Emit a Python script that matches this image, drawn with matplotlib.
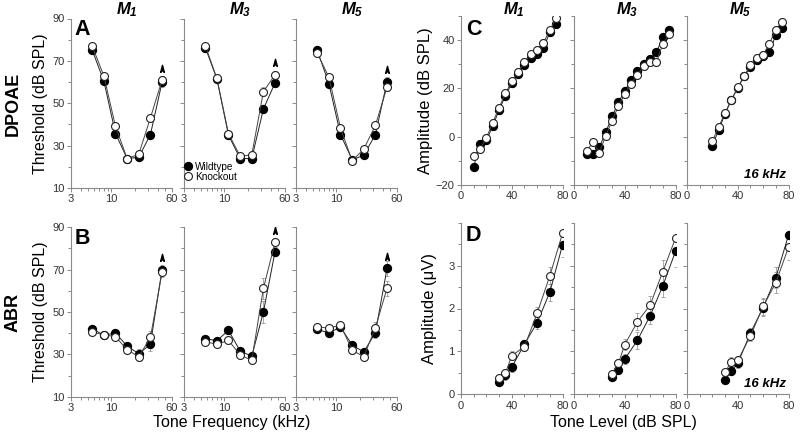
import numpy as np
import matplotlib
matplotlib.use('Agg')
import matplotlib.pyplot as plt
from matplotlib.path import Path
from matplotlib.ticker import FixedLocator, FixedFormatter, NullFormatter

plt.rcParams['font.family'] = ['Liberation Sans', 'DejaVu Sans']
plt.rcParams['mathtext.fontset'] = 'custom'
plt.rcParams['mathtext.rm'] = 'Liberation Sans:bold:italic'
plt.rcParams['mathtext.it'] = 'Liberation Sans:bold:italic'
plt.rcParams['mathtext.bf'] = 'Liberation Sans:bold:italic'

# ---- data ----
freqs = [5.66, 8, 11.3, 16, 22.6, 32, 45.25]
levels_c = [10, 15, 20, 25, 30, 35, 40, 45, 50, 55, 60, 65, 70, 75]
levels_c5 = [20, 25, 30, 35, 40, 45, 50, 55, 60, 65, 70, 75]
levels_d = [30, 35, 40, 50, 60, 70, 80]
titles = [r'$M_1$', r'$M_3$', r'$M_5$']

# A: DPOAE thresholds (dB SPL)
dp_wt_m1 = [75.0, 60.4, 35.7, 23.9, 24.5, 35.2, 59.9]
dp_ko_m1 = [76.9, 62.8, 39.1, 23.9, 25.9, 43.1, 60.9]
dp_wt_m3 = [76.3, 61.5, 34.9, 23.9, 23.9, 47.3, 59.6]
dp_ko_m3 = [77.2, 61.7, 35.7, 25.0, 25.6, 55.5, 63.4]
dp_wt_m5 = [74.9, 59.3, 35.2, 23.4, 25.4, 35.2, 60.2]
dp_ko_m5 = [73.6, 62.3, 38.3, 22.9, 28.3, 39.6, 57.6]
dp_err_m1 = [1, 1, 1.5, 1, 1, 1.5, 2]
dp_err_m3 = [1, 1, 1, 1, 1, 2, 2]
dp_err_m5 = [1, 1, 1.5, 1, 1, 1.5, 2]

# B: ABR thresholds (dB SPL)
abr_wt_m1 = [42.1, 39.0, 40.1, 33.9, 30.3, 34.7, 70.0]
abr_ko_m1 = [40.4, 39.3, 38.3, 32.2, 28.9, 38.0, 68.7]
abr_wt_m3 = [37.4, 36.5, 41.3, 31.6, 29.1, 50.0, 78.5]
abr_ko_m3 = [36.0, 34.7, 36.6, 29.7, 27.2, 61.2, 82.9]
abr_wt_m5 = [41.8, 40.1, 42.9, 34.4, 31.1, 40.2, 70.6]
abr_ko_m5 = [43.1, 42.3, 43.9, 31.9, 28.9, 42.6, 61.2]
abr_err_m1 = [1, 1, 1.5, 1.5, 2, 3, 2]
abr_err_m3 = [1, 1, 1, 1.5, 1.5, 5, 2]
abr_err_m5 = [1, 1, 1.5, 1.5, 1.5, 2.5, 3.5]

# C: DPOAE amplitude at 16 kHz (dB SPL)
c_wt_m1 = [-12.4, -3.0, -1.5, 4.4, 11.0, 17.0, 22.1, 26.1, 29.9, 32.8, 34.1, 36.8, 43.2, 46.6]
c_ko_m1 = [-7.9, -5.2, -0.4, 5.8, 12.1, 17.9, 23.0, 26.9, 30.9, 34.1, 35.9, 39.0, 44.1, 49.0]
c_wt_m3 = [-7.0, -7.0, -4.3, 1.8, 8.4, 14.2, 19.0, 23.3, 27.3, 30.1, 32.3, 34.9, 41.4, 44.1]
c_ko_m3 = [-5.8, -2.3, -6.6, 0.4, 6.6, 12.7, 17.7, 21.8, 25.7, 29.2, 30.9, 30.9, 38.5, 42.6]
c_wt_m5 = [-3.7, 2.8, 9.5, 15.2, 20.2, 25.0, 29.0, 31.6, 33.4, 34.9, 42.2, 45.0]
c_ko_m5 = [-1.8, 4.1, 9.9, 15.4, 20.4, 25.1, 29.7, 32.6, 33.9, 38.6, 44.4, 47.6]
c_err = 1.5

# D: ABR amplitude at 16 kHz (uV)
d_wt_m1 = [0.29, 0.44, 0.63, 1.17, 1.67, 2.38, 3.48]
d_ko_m1 = [0.37, 0.49, 0.90, 1.11, 1.89, 2.76, 3.75]
d_wt_m3 = [0.41, 0.57, 0.82, 1.26, 1.83, 2.53, 3.33]
d_ko_m3 = [0.48, 0.72, 1.16, 1.69, 2.08, 2.86, 3.64]
d_wt_m5 = [0.33, 0.55, 0.72, 1.43, 2.02, 2.72, 3.71]
d_ko_m5 = [0.52, 0.76, 0.79, 1.36, 2.05, 2.60, 3.43]
d_err_m1 = [0.05, 0.1, 0.1, 0.1, 0.15, 0.2, 0.27]
d_err_m3 = [0.05, 0.1, 0.12, 0.2, 0.2, 0.26, 0.37]
d_err_m5 = [0.05, 0.1, 0.1, 0.12, 0.2, 0.25, 0.3]

W, H = 800, 438
fig = plt.figure(figsize=(8, 4.38), dpi=100)

def px_axes(left, top, width, bottom):
    return fig.add_axes([left / W, 1 - bottom / H, width / W, (bottom - top) / H])

arrow = Path([(0, 1), (0.45, -0.7), (0, -0.25), (-0.45, -0.7), (0, 1)],
             [Path.MOVETO, Path.LINETO, Path.LINETO, Path.LINETO, Path.CLOSEPOLY])

spine_c = '#8a8a8a'
tick_c = '#333333'

def style(ax, show_y):
    for s in ['top', 'right']:
        ax.spines[s].set_visible(False)
    for s in ['left', 'bottom']:
        ax.spines[s].set_color(spine_c)
        ax.spines[s].set_linewidth(0.8)
        ax.spines[s].set_clip_on(False)
    ax.tick_params(which='both', direction='out', color=spine_c, width=0.7,
                   labelsize=8, labelcolor=tick_c, pad=1.5)
    ax.tick_params(which='major', length=3)
    ax.tick_params(which='minor', length=2.5)
    if not show_y:
        ax.tick_params(axis='y', which='both', labelleft=False)

def draw(ax, x, wt, ko, ewt, eko, ms=5.7):
    ax.errorbar(x, wt, yerr=ewt, fmt='none', ecolor='#999999', elinewidth=0.6,
                capsize=1.2, capthick=0.6, zorder=1)
    ax.errorbar(x, ko, yerr=eko, fmt='none', ecolor='#999999', elinewidth=0.6,
                capsize=1.2, capthick=0.6, zorder=1)
    ax.plot(x, wt, '-o', color='#222222', lw=0.7, mfc='black', mec='black',
            ms=ms, zorder=3, label='Wildtype')
    ax.plot(x, ko, '-o', color='#444444', lw=0.7, mfc='white', mec='#222222',
            mew=0.8, ms=ms, zorder=4, label='Knockout')

# ---- left block: thresholds vs frequency ----
left_x = [71, 184, 296]
rows_left = [
    (18.5, 188, [dp_wt_m1, dp_wt_m3, dp_wt_m5], [dp_ko_m1, dp_ko_m3, dp_ko_m5],
     [dp_err_m1, dp_err_m3, dp_err_m5]),
    (227.3, 396.7, [abr_wt_m1, abr_wt_m3, abr_wt_m5], [abr_ko_m1, abr_ko_m3, abr_ko_m5],
     [abr_err_m1, abr_err_m3, abr_err_m5]),
]
for r, (top, bot, wts, kos, errs) in enumerate(rows_left):
    for i in range(3):
        ax = px_axes(left_x[i], top, 100.5, bot)
        draw(ax, freqs, wts[i], kos[i], errs[i], errs[i])
        peak = max(wts[i][-1], kos[i][-1])
        ax.plot([freqs[-1]], [peak + 5.5], marker=arrow, ms=6, color='black',
                ls='none', zorder=5)
        ax.set_xscale('log')
        ax.set_xlim(3, 60)
        ax.set_ylim(10, 90)
        ax.xaxis.set_major_locator(FixedLocator([3, 10, 60]))
        ax.xaxis.set_major_formatter(FixedFormatter(['3', '10', '60']))
        ax.xaxis.set_minor_locator(FixedLocator([4, 5, 6, 7, 8, 9, 20, 30, 40, 50]))
        ax.xaxis.set_minor_formatter(NullFormatter())
        ax.set_yticks([10, 30, 50, 70, 90])
        ax.yaxis.set_minor_locator(FixedLocator([20, 40, 60, 80]))
        style(ax, i == 0)
        if r == 0:
            fig.text((left_x[i] + 56) / W, 1 - 10 / H, titles[i], fontsize=12,
                     ha='center', va='center')
        if i == 0:
            ax.set_ylabel('Threshold (dB SPL)', fontsize=11.5, labelpad=3)
            ax.text(0.035, 0.995, 'AB'[r], transform=ax.transAxes, fontsize=15.5,
                    fontweight='bold', va='top', ha='left')
        if r == 0 and i == 1:
            ax.legend(loc='lower left', bbox_to_anchor=(-0.01, 0.025), frameon=False,
                      fontsize=7.2, handlelength=0.6, handletextpad=0.4,
                      labelspacing=0.0, borderpad=0.1, borderaxespad=0.1)

fig.text(232 / W, 1 - 423 / H, 'Tone Frequency (kHz)', fontsize=11.5, ha='center', va='center')
fig.text(13 / W, 1 - 104 / H, 'DPOAE', fontsize=13, fontweight='bold', rotation=90,
         ha='center', va='center')
fig.text(13 / W, 1 - 312 / H, 'ABR', fontsize=13, fontweight='bold', rotation=90,
         ha='center', va='center')

# ---- right block: input/output at 16 kHz ----
right_x = [461, 574, 687]
c_x = [levels_c, levels_c, levels_c5]
c_wts = [c_wt_m1, c_wt_m3, c_wt_m5]
c_kos = [c_ko_m1, c_ko_m3, c_ko_m5]
d_wts = [d_wt_m1, d_wt_m3, d_wt_m5]
d_kos = [d_ko_m1, d_ko_m3, d_ko_m5]
d_errs = [d_err_m1, d_err_m3, d_err_m5]

for i in range(3):
    ax = px_axes(right_x[i], 16, 101.5, 185)
    draw(ax, c_x[i], c_wts[i], c_kos[i], c_err, c_err)
    ax.set_xlim(0, 80)
    ax.set_ylim(-20, 50)
    ax.set_xticks([0, 40, 80])
    ax.xaxis.set_minor_locator(FixedLocator([10, 20, 30, 50, 60, 70]))
    ax.set_yticks([-20, 0, 20, 40])
    ax.yaxis.set_minor_locator(FixedLocator([-10, 10, 30, 50]))
    style(ax, i == 0)
    fig.text((right_x[i] + 53) / W, 1 - 10 / H, titles[i], fontsize=12,
             ha='center', va='center')
    if i == 0:
        ax.set_ylabel('Amplitude (dB SPL)', fontsize=12, labelpad=2)
        ax.text(0.05, 0.985, 'C', transform=ax.transAxes, fontsize=15.5,
                fontweight='bold', va='top', ha='left')
    if i == 2:
        ax.text(0.98, 0.06, '16 kHz', transform=ax.transAxes, fontsize=9.5,
                fontweight='bold', fontstyle='italic', ha='right', va='center')

    ax = px_axes(right_x[i], 222.7, 101.5, 394.3)
    draw(ax, levels_d, d_wts[i], d_kos[i], d_errs[i], d_errs[i])
    ax.set_xlim(0, 80)
    ax.set_ylim(0, 4)
    ax.set_xticks([0, 40, 80])
    ax.xaxis.set_minor_locator(FixedLocator([10, 20, 30, 50, 60, 70]))
    ax.set_yticks([0, 1, 2, 3])
    ax.yaxis.set_minor_locator(FixedLocator([0.5, 1.5, 2.5, 3.5, 4]))
    style(ax, i == 0)
    if i == 0:
        ax.set_ylabel('Amplitude (\u03bcV)', fontsize=12, labelpad=8)
        ax.text(0.05, 0.985, 'D', transform=ax.transAxes, fontsize=15.5,
                fontweight='bold', va='top', ha='left')
    if i == 2:
        ax.text(0.98, 0.06, '16 kHz', transform=ax.transAxes, fontsize=9.5,
                fontweight='bold', fontstyle='italic', ha='right', va='center')

fig.text(623 / W, 1 - 423 / H, 'Tone Level (dB SPL)', fontsize=11.5, ha='center', va='center')

plt.savefig('out.png', dpi=100)
